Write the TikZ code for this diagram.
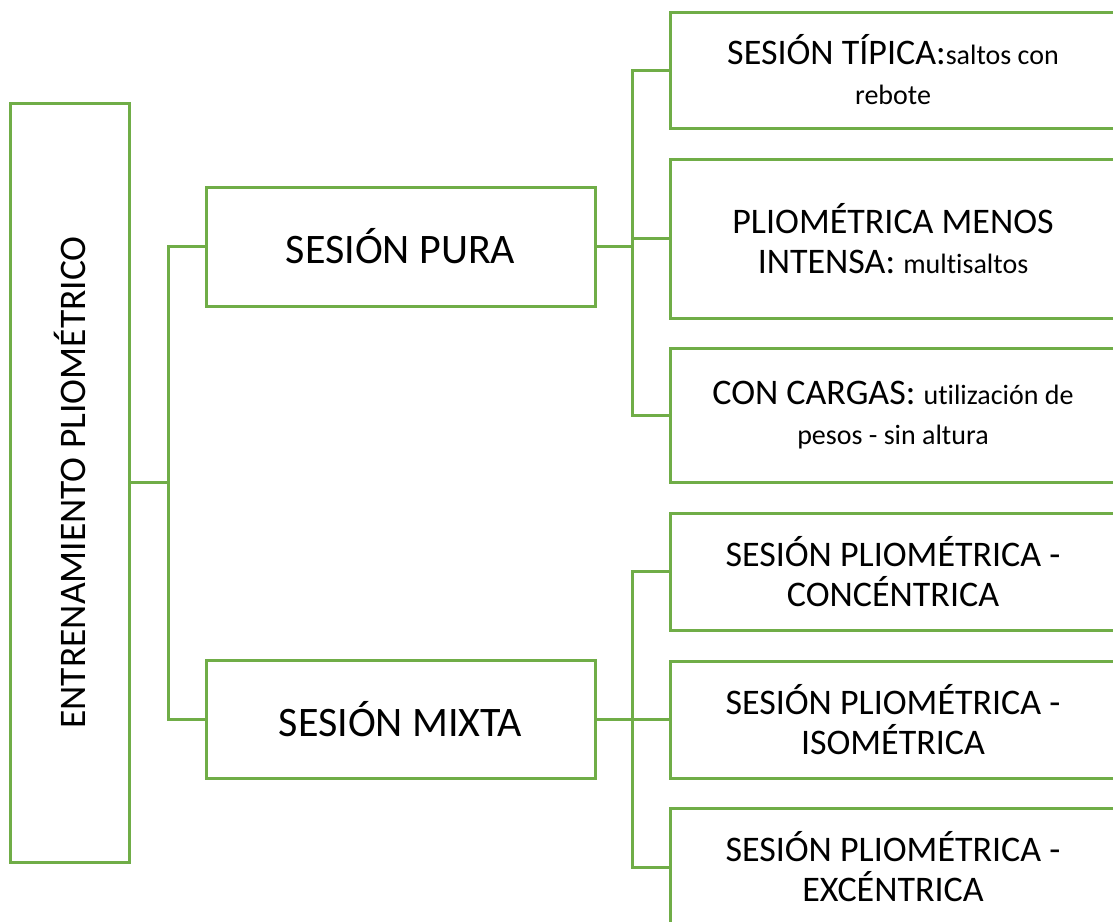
\documentclass[tikz,border=0pt]{standalone}
\usepackage{fontspec}
\setmainfont{Carlito}[Ligatures={NoCommon}]
\usepackage{tikz}
\usetikzlibrary{positioning, calc}
\definecolor{BoxGreen}{RGB}{112, 173, 71}
\newcommand{\bigtxt}{\fontsize{36}{40}\selectfont}
\newcommand{\smalltxt}{\fontsize{28}{40}\selectfont}

\begin{document}
\begin{tikzpicture}[
        x=1pt, y=-1pt,
        box/.style={rectangle, draw=BoxGreen, line width=3pt, align=center, inner sep=0pt},
        leaf/.style={box, minimum width=446pt, font=\bigtxt},
        link/.style={draw=BoxGreen, line width=3pt}
    ]
    
    \useasboundingbox (0,0) rectangle (1113,921);
    
    \node[box, minimum width=119pt, minimum height=759pt] (root) at (69.5,482.5)
        {\rotatebox{90}{\fontsize{37.5}{40}\selectfont ENTRENAMIENTO PLIOMÉTRICO}};
    
    \node[box, minimum width=389pt, minimum height=119pt, font=\fontsize{42}{46}\selectfont] (pura) at (400.5,246.5) {SESIÓN PURA};
    \node[box, minimum width=389pt, minimum height=118pt, font=\fontsize{42}{46}\selectfont] (mixta) at (400.5,719) {SESIÓN MIXTA};
    
    \node[leaf, minimum height=116pt] (tipica) at (893,70)
        {SESIÓN TÍPICA:{\smalltxt saltos con}\\ {\smalltxt rebote}};
    \node[leaf, minimum height=159pt] (menos) at (893,238.5)
        {PLIOMÉTRICA MENOS\\ INTENSA: {\smalltxt multisaltos}};
    \node[leaf, minimum height=134pt] (cargas) at (893,415)
        {CON CARGAS: {\smalltxt utilización de}\\ {\smalltxt pesos - sin altura}};
    
    \node[leaf, minimum height=117pt] (conc) at (893,571.5)
        {SESIÓN PLIOMÉTRICA -\\ CONCÉNTRICA};
    \node[leaf, minimum height=117pt] (iso) at (893,719.5)
        {SESIÓN PLIOMÉTRICA -\\ ISOMÉTRICA};
    \node[leaf, minimum height=118pt] (exc) at (893,867)
        {SESIÓN PLIOMÉTRICA -\\ EXCÉNTRICA};
    
    % branch points
    \coordinate (jroot) at (168,482.5);
    \coordinate (jpura) at (632,246.5);
    \coordinate (jmixta) at (632,719);
    
    \draw[link] (root.east) -- (jroot);
    \draw[link] (jroot) |- (pura.west);
    \draw[link] (jroot) |- (mixta.west);
    
    \draw[link] (pura.east) -- (jpura);
    \foreach \n in {tipica, menos, cargas} \draw[link] (jpura) |- (\n.west);
    
    \draw[link] (mixta.east) -- (jmixta);
    \foreach \n in {conc, iso, exc} \draw[link] (jmixta) |- (\n.west);
    
\end{tikzpicture}
\end{document}
